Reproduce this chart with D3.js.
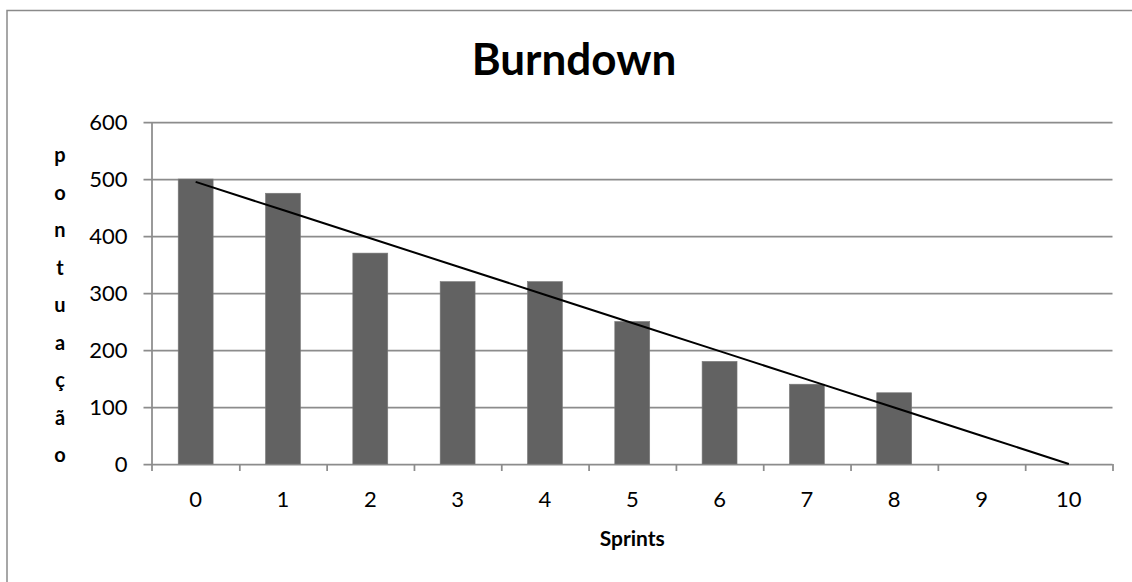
<!DOCTYPE html>
<html><head><meta charset="utf-8">
<script src="https://cdn.jsdelivr.net/npm/d3@7"></script>
<style>
html,body{margin:0;padding:0;background:#fff;}
svg{display:block;font-family:Lato,"Open Sans",sans-serif;}
</style></head>
<body><svg id="c" width="1132" height="582"></svg>
<script>
const categories = ["0","1","2","3","4","5","6","7","8","9","10"];
const remaining = [500, 475, 370, 320, 320, 250, 180, 140, 125, null, null];
const ideal = [495, 445.5, 396, 346.5, 297, 247.5, 198, 148.5, 99, 49.5, 0];
const yTicks = [0, 100, 200, 300, 400, 500, 600];
const title = "Burndown";
const xTitle = "Sprints";
const yTitle = "pontuação";

const svg = d3.select("#c");
const L = 152, R = 1112.5, T = 122, B = 464;

// outer frame
svg.append("path").attr("d", `M7,590 L7,10.5 L1140,10.5`)
  .attr("fill","none").attr("stroke","#8a8a8a").attr("stroke-width",1.5);

const x = d3.scaleBand().domain(categories).range([L, R]).paddingInner(0.6).paddingOuter(0.3);
const y = d3.scaleLinear().domain([0, 600]).range([B, T]);
const xb = d3.scaleLinear().domain([0, categories.length]).range([L, R]);

// gridlines + y labels
const gy = svg.append("g").attr("transform", `translate(143.5,0)`)
  .call(d3.axisLeft(y).tickValues(yTicks).tickSize(-(R - 143.5)).tickPadding(16));
gy.select(".domain").remove();
gy.selectAll(".tick line").attr("stroke","#8c8c8c").attr("stroke-width",1.75);
gy.selectAll("text").attr("font-size",22).attr("fill","#000").attr("font-family","Lato");

// y axis line
svg.append("line").attr("x1",L).attr("x2",L).attr("y1",T).attr("y2",B+7)
  .attr("stroke","#8c8c8c").attr("stroke-width",1.75);

// x boundary ticks
const gt = svg.append("g").attr("transform",`translate(0,${B})`)
  .call(d3.axisBottom(xb).tickValues(d3.range(1, categories.length + 1)).tickSize(7).tickFormat(""));
gt.select(".domain").remove();
gt.selectAll(".tick line").attr("stroke","#8c8c8c").attr("stroke-width",1.75);

// bars
svg.append("g").selectAll("rect")
  .data(categories.map((c,i)=>({c, v: remaining[i]})).filter(d=>d.v!=null))
  .join("rect")
  .attr("x", d=>x(d.c)).attr("width", x.bandwidth())
  .attr("y", d=>y(d.v)).attr("height", d=>y(0)-y(d.v))
  .attr("fill","#626262").attr("stroke","#7a7a7a").attr("stroke-width",0.6);

// ideal line
const line = d3.line().x((d,i)=>x(categories[i]) + x.bandwidth()/2).y(d=>y(d));
svg.append("path").datum(ideal).attr("d", line)
  .attr("fill","none").attr("stroke","#000").attr("stroke-width",2);

// x labels
const gx = svg.append("g").attr("transform",`translate(0,${B})`)
  .call(d3.axisBottom(x).tickSize(0).tickPadding(27));
gx.select(".domain").remove();
gx.selectAll("text").attr("font-size",22).attr("fill","#000").attr("font-family","Lato");

// titles
svg.append("text").attr("x",574).attr("y",75).attr("text-anchor","middle")
  .attr("font-size",44).attr("font-weight","bold").text(title);
svg.append("text").attr("x",(L+R)/2).attr("y",546).attr("text-anchor","middle")
  .attr("font-size",21).attr("font-weight","bold").text(xTitle);

const yl = svg.append("text").attr("text-anchor","middle").attr("font-size",20).attr("font-weight","bold");
Array.from(yTitle).forEach((ch,i)=>{
  yl.append("tspan").attr("x",60).attr("y",162 + i*37.5).text(ch);
});
</script></body></html>
